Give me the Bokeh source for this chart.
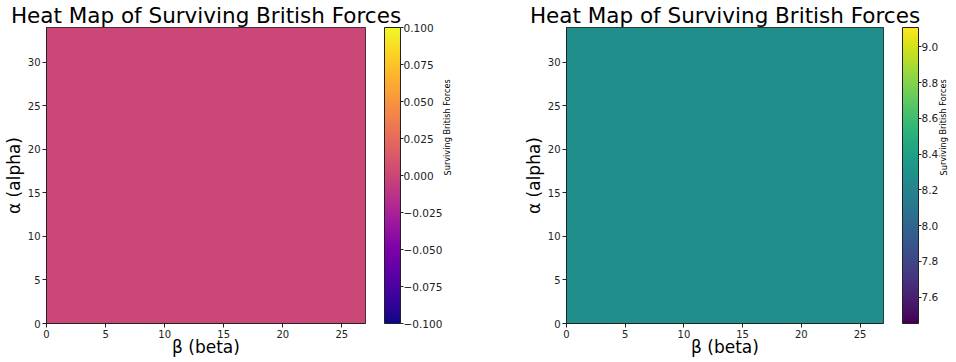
import numpy as np
from bokeh.plotting import figure
from bokeh.layouts import row
from bokeh.models import (LinearColorMapper, ColorBar, FixedTicker, LinearAxis,
                          CustomJSTickFormatter, Range1d)
from bokeh.palettes import Plasma256, Viridis256
from bokeh.embed import file_html
from bokeh.resources import INLINE

# ---- data ----
beta_cells = list(range(0, 27))     # beta grid (27 cells)
alpha_cells = list(range(0, 34))    # alpha grid (34 cells)
surviving_left = 0.0                # uniform value in left heat map
surviving_right = 8.28              # uniform value in right heat map
left_range = [-0.1, 0.1]
right_range = [7.452, 9.108]
x_ticks = [0, 5, 10, 15, 20, 25]
y_ticks = [0, 5, 10, 15, 20, 25, 30]
left_cb_ticks = [-0.1, -0.075, -0.05, -0.025, 0.0, 0.025, 0.05, 0.075, 0.1]
right_cb_ticks = [7.6, 7.8, 8.0, 8.2, 8.4, 8.6, 8.8, 9.0]
title_text = "Heat Map of Surviving British Forces"
x_label = "β (beta)"
y_label = "α (alpha)"
cb_label = "Surviving British Forces"

FONT = "DejaVu Sans"
H = 362
INK = "#222222"


def style_axis(ax):
    ax.minor_tick_line_color = None
    ax.major_tick_in = 0
    ax.major_tick_out = 4
    ax.axis_line_color = INK
    ax.major_tick_line_color = INK
    ax.major_label_text_font = FONT
    ax.major_label_text_font_size = "10px"
    ax.major_label_text_color = INK
    ax.major_label_standoff = 2
    ax.axis_label_text_font = FONT
    ax.axis_label_text_font_size = "17px"
    ax.axis_label_text_font_style = "normal"
    ax.axis_label_text_color = "black"


def heat_panel(val, palette, vrange, ticks, digits, width, border_left, border_right):
    nx, ny = len(beta_cells), len(alpha_cells)
    grid = np.array([[val for _ in beta_cells] for _ in alpha_cells], dtype=float)
    p = figure(width=width, height=H, output_backend="svg", toolbar_location=None,
               x_range=Range1d(0, nx), y_range=Range1d(0, ny),
               min_border_left=border_left, min_border_right=border_right,
               min_border_top=26, min_border_bottom=39)
    p.title.text = title_text
    p.title.align = "center"
    p.title.text_font = FONT
    p.title.text_font_size = "21.5px"
    p.title.text_font_style = "normal"
    p.title.text_color = "black"
    p.title.standoff = 0
    p.title.offset = 0
    mapper = LinearColorMapper(palette=palette, low=vrange[0], high=vrange[1])
    p.image(image=[grid], x=0, y=0, dw=nx, dh=ny, color_mapper=mapper)
    p.grid.visible = False
    p.outline_line_color = INK
    p.xaxis.ticker = FixedTicker(ticks=x_ticks)
    p.yaxis.ticker = FixedTicker(ticks=y_ticks)
    style_axis(p.xaxis)
    style_axis(p.yaxis)
    p.xaxis.axis_label = x_label
    p.yaxis.axis_label = y_label
    p.xaxis.axis_label_standoff = -4
    p.yaxis.axis_label_standoff = 1

    # spacer between frame and colour bar
    spacer = LinearAxis(ticker=FixedTicker(ticks=[ny / 2]), major_tick_out=19, major_tick_in=0,
                        major_tick_line_color=None, minor_tick_line_color=None,
                        axis_line_color=None, major_label_standoff=0,
                        formatter=CustomJSTickFormatter(code="return '';"))
    p.add_layout(spacer, "right")

    fmt = CustomJSTickFormatter(code="return tick.toFixed(%d).replace('-', '\\u2212');" % digits)
    cb = ColorBar(color_mapper=mapper, ticker=FixedTicker(ticks=ticks), formatter=fmt,
                  width=16, padding=0, margin=0, bar_line_color=INK,
                  major_tick_in=0, major_tick_out=3, major_tick_line_color=INK,
                  minor_tick_line_color=None,
                  label_standoff=0, major_label_text_font=FONT,
                  major_label_text_font_size="10.5px", major_label_text_color=INK,
                  background_fill_alpha=0)
    p.add_layout(cb, "right")

    lab = LinearAxis(ticker=FixedTicker(ticks=[]), major_tick_out=0, major_tick_in=0,
                     major_tick_line_color=None, minor_tick_line_color=None,
                     axis_line_color=None, major_label_standoff=0,
                     axis_label=cb_label, axis_label_orientation=1.5708,
                     axis_label_standoff=2, axis_label_text_font=FONT,
                     axis_label_text_font_size="8.2px", axis_label_text_font_style="normal",
                     axis_label_text_color="black")
    p.add_layout(lab, "right")
    return p


p1 = heat_panel(surviving_left, Plasma256, left_range, left_cb_ticks, 3, 472, 46, 107)
p2 = heat_panel(surviving_right, Viridis256, right_range, right_cb_ticks, 1, 484, 94, 71)

layout = row(p1, p2, spacing=0)
open("out.html", "w").write(file_html(layout, INLINE))
